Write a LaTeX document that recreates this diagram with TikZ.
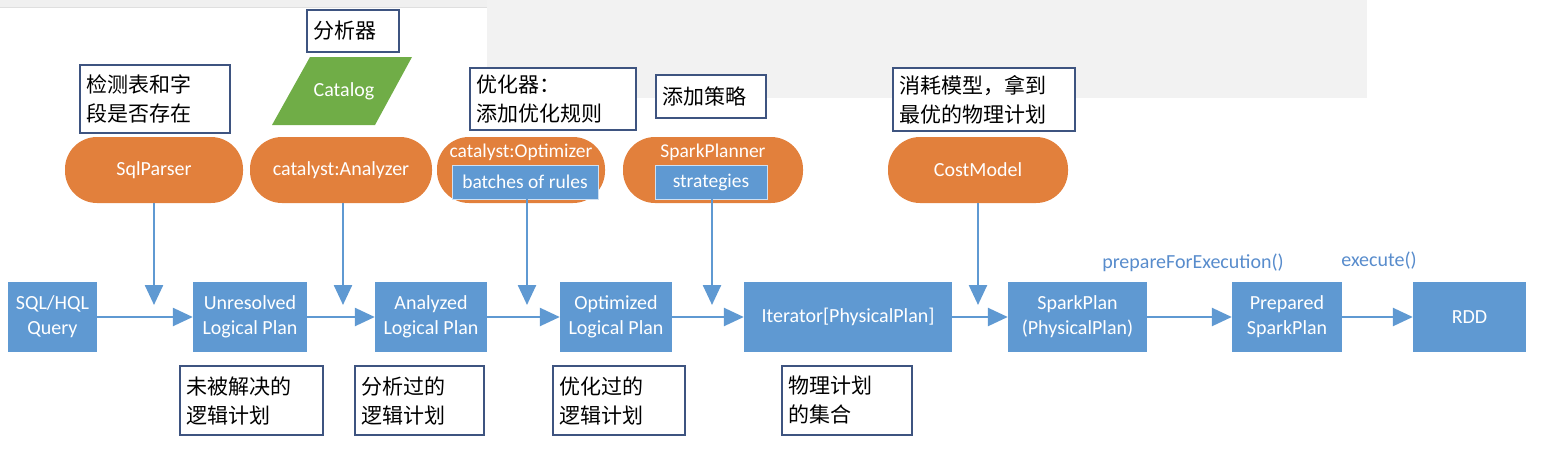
\documentclass[tikz,border=0pt]{standalone}
\usepackage{fontspec}
\setmainfont{Carlito}
\newfontfamily\cjk{Noto Sans CJK SC}
\usetikzlibrary{arrows.meta}
\definecolor{bbox}{RGB}{95,153,210}
\definecolor{orng}{RGB}{226,128,60}
\definecolor{grn}{RGB}{112,173,71}
\definecolor{nblue}{RGB}{62,84,128}
\definecolor{lbl}{RGB}{88,140,204}
\definecolor{gray0}{RGB}{240,240,240}
\definecolor{gray1}{RGB}{242,242,242}
\tikzset{
  box/.style={fill=bbox, text=white, font=\fontsize{20}{25}\selectfont, align=center, minimum height=70pt, inner sep=0pt},
  pill/.style={fill=orng, text=white, rounded corners=32pt, minimum height=66pt, font=\fontsize{20}{22}\selectfont, inner sep=0pt},
  pilltext/.style={text=white, font=\fontsize{19.5}{22}\selectfont, inner sep=0pt},
  inbox/.style={fill=bbox, draw=white!70!bbox, line width=0.8pt, text=white, font=\fontsize{19.5}{22}\selectfont, minimum height=34pt, inner sep=0pt},
  note/.style={draw=nblue, line width=1.2pt, fill=white, font=\cjk\fontsize{21}{29}\selectfont, align=left, inner sep=6pt},
  arr/.style={draw=bbox, line width=2.5pt, -{Triangle[length=20pt,width=18pt]}},
  lab/.style={text=lbl, font=\fontsize{20}{22}\selectfont, inner sep=0pt}
}
\begin{document}
\begin{tikzpicture}[x=1pt,y=-1pt]
\useasboundingbox (0,0) rectangle (1544,450);
\fill[gray0] (0,0) rectangle (487,7);
\draw[gray!25, line width=1pt] (0,7.5) -- (487,7.5);
\fill[gray1] (487,0) rectangle (1367,98);

% bottom row boxes
\node[box, minimum width=89pt]  (sql) at (52.5,317) {SQL/HQL\\Query};
\node[box, minimum width=114pt] (unr) at (250,317) {Unresolved\\Logical Plan};
\node[box, minimum width=112pt] (ana) at (431,317) {Analyzed\\Logical Plan};
\node[box, minimum width=112pt] (opt) at (616,317) {Optimized\\Logical Plan};
\node[box, minimum width=208pt] (itr) at (848,317) {Iterator[PhysicalPlan]};
\node[box, minimum width=139pt] (spp) at (1077.5,317) {SparkPlan\\(PhysicalPlan)};
\node[box, minimum width=110pt] (pre) at (1287,317) {Prepared\\SparkPlan};
\node[box, minimum width=113pt] (rdd) at (1469.5,317) {RDD};

% horizontal arrows
\draw[arr] (sql) -- (unr);
\draw[arr] (unr) -- (ana);
\draw[arr] (ana) -- (opt);
\draw[arr] (opt) -- (itr);
\draw[arr] (itr) -- (spp);
\draw[arr] (spp) -- (pre);
\draw[arr] (pre) -- (rdd);

% top row pills
\node[pill, minimum width=178pt] (sqlp) at (154,170) {SqlParser};
\node[pill, minimum width=182pt] (anap) at (341,170) {catalyst:Analyzer};
\node[pill, minimum width=168pt] (optp) at (521,170) {};
\node[pilltext] (optt) at (521,152) {catalyst:Optimizer};
\node[inbox, minimum width=146pt] (rules) at (525,182) {batches of rules};
\node[pill, minimum width=180pt] (spkp) at (713,170) {};
\node[pilltext] (spkt) at (713,152) {SparkPlanner};
\node[inbox, minimum width=112pt] (strat) at (711,182) {strategies};
\node[pill, minimum width=180pt] (cost) at (978,170) {CostModel};

% vertical arrows
\coordinate (t1) at (154,305);
\coordinate (t2) at (343,305);
\coordinate (t3) at (527,305);
\coordinate (t4) at (712,305);
\coordinate (t5) at (978,305);
\draw[arr] (sqlp.south) -- (t1);
\draw[arr] (anap.south -| t2) -- (t2);
\draw[arr] (rules.south -| t3) -- (t3);
\draw[arr] (strat.south -| t4) -- (t4);
\draw[arr] (cost.south) -- (t5);

% catalog
\fill[grn] (310,57) -- (412,57) -- (375,125) -- (272,125) -- cycle;
\node[text=white, font=\fontsize{20}{22}\selectfont, inner sep=0pt] (cat) at (344,91) {Catalog};

% notes
\node[note, text width=138pt, minimum height=68pt] (n1) at (155,99) {检测表和字\\段是否存在};
\node[note, text width=80pt, minimum height=42pt] (n2) at (353,31) {分析器};
\node[note, text width=154pt, minimum height=62pt] (n3) at (553,99) {优化器：\\添加优化规则};
\node[note, text width=98pt, minimum height=43pt] (n4) at (711,96.5) {添加策略};
\node[note, text width=170pt, minimum height=63pt] (n5) at (984,99.5) {消耗模型，拿到\\最优的物理计划};
\node[note, text width=131pt, minimum height=69pt] (n6) at (251.5,400.5) {未被解决的\\逻辑计划};
\node[note, text width=117pt, minimum height=69pt] (n7) at (419.5,400.5) {分析过的\\逻辑计划};
\node[note, text width=120pt, minimum height=69pt] (n8) at (619,400.5) {优化过的\\逻辑计划};
\node[note, text width=118pt, minimum height=69pt] (n9) at (847,400.5) {物理计划\\的集合};

% labels
\node[lab] (l1) at (1193,263) {prepareForExecution()};
\node[lab] (l2) at (1379,261) {execute()};
\end{tikzpicture}
\end{document}
